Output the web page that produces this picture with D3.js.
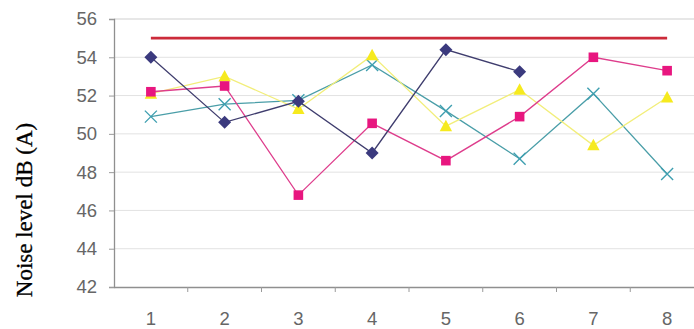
<!DOCTYPE html>
<html>
<head>
<meta charset="utf-8">
<script src="https://cdn.jsdelivr.net/npm/d3@7"></script>
<style>
  html, body { margin: 0; padding: 0; background: #fff; }
  svg { display: block; }
</style>
</head>
<body>
<svg id="chart" width="694" height="329"></svg>
<script>
// Measurement points 1..8
const categories = ["1", "2", "3", "4", "5", "6", "7", "8"];
const yTicks = [42, 44, 46, 48, 50, 52, 54, 56];

// Noise level readings, dB(A)
const limit    = [55, 55, 55, 55, 55, 55, 55, 55];
const seriesA  = [54.0, 50.6, 51.7, 49.0, 54.4, 53.25, null, null];  // diamonds
const seriesB  = [52.2, 52.5, 46.8, 50.55, 48.6, 50.9, 54.0, 53.3];  // squares
const seriesC  = [52.1, 53.0, 51.3, 54.1, 50.4, 52.3, 49.4, 51.9];   // triangles
const seriesD  = [50.9, 51.55, 51.75, 53.6, 51.2, 48.7, 52.1, 47.9]; // crosses

const svg = d3.select("#chart");
const plotLeft = 114, plotRight = 704, plotTop = 19, plotBottom = 287;

const x = d3.scaleBand().domain(categories).range([plotLeft, plotRight]);
const y = d3.scaleLinear().domain([42, 56]).range([plotBottom, plotTop]);
const cx = c => x(c) + x.bandwidth() / 2;

const tickFont = "'Liberation Sans', Arial, sans-serif";

// gridlines
svg.append("g").selectAll("line").data(yTicks.filter(t => t > 42)).join("line")
  .attr("x1", plotLeft).attr("x2", plotRight)
  .attr("y1", d => y(d)).attr("y2", d => y(d))
  .attr("stroke", d => d === 56 ? "#cfcfcf" : "#e2e2e2").attr("stroke-width", 1);

// y axis
const yAxis = svg.append("g").attr("transform", `translate(${plotLeft},0)`)
  .call(d3.axisLeft(y).tickValues(yTicks).tickSize(5).tickPadding(12).tickFormat(d3.format("d")));
yAxis.select(".domain").attr("stroke", "#8f8f8f").attr("stroke-width", 1.3);
yAxis.selectAll(".tick line").attr("stroke", "#9a9a9a");
yAxis.selectAll("text").attr("fill", "#666")
  .style("font-family", tickFont).style("font-size", "18.5px");

// x axis, ticks between categories
const xAxis = svg.append("g").attr("transform", `translate(0,${plotBottom})`)
  .call(d3.axisBottom(x).tickSize(0).tickPadding(25));
xAxis.select(".domain").attr("stroke", "#8f8f8f").attr("stroke-width", 1.3);
xAxis.selectAll("text").attr("fill", "#666")
  .style("font-family", tickFont).style("font-size", "18.5px");
svg.append("g").selectAll("line").data(categories.slice(1)).join("line")
  .attr("x1", d => x(d)).attr("x2", d => x(d))
  .attr("y1", plotBottom).attr("y2", plotBottom + 5)
  .attr("stroke", "#9a9a9a");

// axis title
svg.append("text")
  .attr("transform", "translate(32,210) rotate(-90)")
  .attr("text-anchor", "middle")
  .style("font-family", "'Liberation Serif', 'Times New Roman', serif")
  .style("font-size", "23px")
  .attr("fill", "#000")
  .attr("stroke", "#000").attr("stroke-width", 0.3)
  .text("Noise level dB (A)");

const line = d3.line()
  .defined(d => d.v != null)
  .x(d => cx(d.c)).y(d => y(d.v));
const toPts = arr => categories.map((c, i) => ({ c, v: arr[i] }));

// limit line
svg.append("path").datum(toPts(limit)).attr("d", line)
  .attr("fill", "none").attr("stroke", "#cc2b3a").attr("stroke-width", 2.8);

function markerPath(shape) {
  if (shape === "diamond") return "M0,-6.5L6.5,0L0,6.5L-6.5,0Z";
  if (shape === "square") return "M-4.8,-4.8H4.8V4.8H-4.8Z";
  return "M0,-6.5L6.2,5L-6.2,5Z";
}

function drawSeries(arr, lineColor, markColor, shape) {
  const pts = toPts(arr).filter(d => d.v != null);
  svg.append("path").datum(toPts(arr)).attr("d", line)
    .attr("fill", "none").attr("stroke", lineColor).attr("stroke-width", 1.3);
  const g = svg.append("g");
  pts.forEach(d => {
    const px = cx(d.c), py = y(d.v);
    if (shape === "cross") {
      const s = 6;
      g.append("path")
        .attr("d", `M${px - s},${py - s}L${px + s},${py + s}M${px - s},${py + s}L${px + s},${py - s}`)
        .attr("stroke", markColor).attr("stroke-width", 1.4).attr("fill", "none");
    } else {
      g.append("path")
        .attr("d", markerPath(shape))
        .attr("transform", `translate(${px},${py})`)
        .attr("fill", markColor);
    }
  });
}

drawSeries(seriesD, "#4a9ea8", "#3f9fb0", "cross");
drawSeries(seriesC, "#f2ee7a", "#f6ea1e", "triangle");
drawSeries(seriesB, "#de3d8c", "#e8167f", "square");
drawSeries(seriesA, "#3f3d6e", "#3b3a7e", "diamond");
</script>
</body>
</html>
